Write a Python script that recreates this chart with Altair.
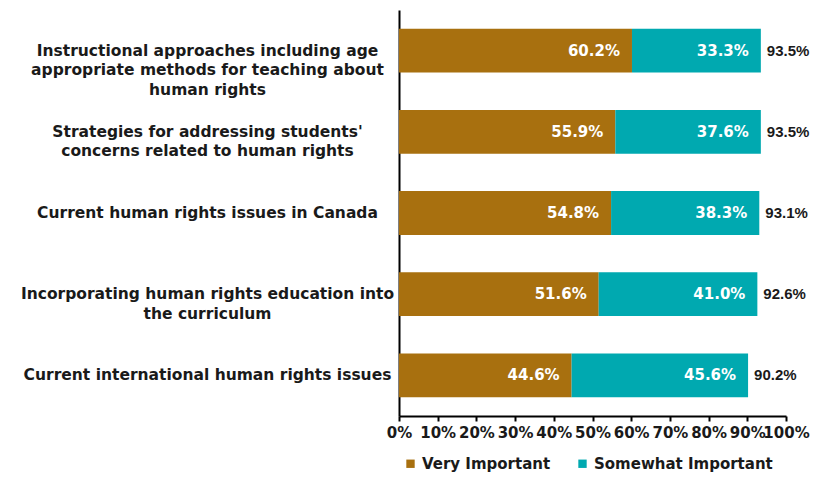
import altair as alt
import pandas as pd

categories = [
    "Instructional approaches including age|appropriate methods for teaching about|human rights",
    "Strategies for addressing students'|concerns related to human rights",
    "Current human rights issues in Canada",
    "Incorporating human rights education into|the curriculum",
    "Current international human rights issues",
]
series = ["Very Important", "Somewhat Important"]
very_important = [60.2, 55.9, 54.8, 51.6, 44.6]
somewhat_important = [33.3, 37.6, 38.3, 41.0, 45.6]
totals = [93.5, 93.5, 93.1, 92.6, 90.2]
colors = ["#A8700F", "#00A9B0"]
x_ticks = [0, 10, 20, 30, 40, 50, 60, 70, 80, 90, 100]

rows = []
for i, c in enumerate(categories):
    rows.append({"category": c, "series": series[0], "value": very_important[i], "order": 0})
    rows.append({"category": c, "series": series[1], "value": somewhat_important[i], "order": 1})
df = pd.DataFrame(rows)
tot_df = pd.DataFrame({"category": categories, "total": totals})

FONT = "DejaVu Sans"
FS = 15
INK = "#1a1a1a"

y_axis = alt.Axis(
    title=None, ticks=False, labelAlign="center", labelBaseline="middle",
    labelPadding=192, labelExpr="split(datum.label, '|')",
    labelFont=FONT, labelFontSize=15.5, labelFontWeight="bold",
    labelLineHeight=19.5, labelColor=INK, labelLimit=0,
    domainColor="black", domainWidth=2,
)
y_scale = alt.Scale(paddingInner=0.46, paddingOuter=0.23)

x_axis = alt.Axis(
    title=None, values=x_ticks, tickCount=11, labelExpr="datum.value + '%'",
    labelFont=FONT, labelFontSize=FS, labelFontWeight="bold", labelColor=INK,
    domainColor="black", domainWidth=2, tickColor="black", tickWidth=2,
    tickSize=5, labelPadding=4, grid=False, labelFlush=False,
    labelOverlap=False,
)
x_scale = alt.Scale(domain=[0, 100], nice=False)

base = alt.Chart(df).transform_stack(
    stack="value", as_=["v0", "v1"], groupby=["category"],
    sort=[alt.SortField("order", order="ascending")],
)

bars = base.mark_bar().encode(
    y=alt.Y("category:N", sort=categories, scale=y_scale, axis=y_axis),
    x=alt.X("v0:Q", scale=x_scale, axis=x_axis),
    x2="v1:Q",
    color=alt.Color(
        "series:N", sort=series,
        scale=alt.Scale(domain=series, range=colors),
        legend=alt.Legend(
            title=None, orient="none", legendX=4, legendY=446, direction="horizontal",
            symbolType="square", symbolSize=70, symbolStrokeWidth=0,
            labelFont=FONT, labelFontSize=FS, labelFontWeight="bold", labelColor=INK,
            columnPadding=24, symbolOffset=0, labelOffset=4, labelLimit=0,
        ),
    ),
)

seg_text = base.transform_calculate(
    lab="format(datum.value, '.1f') + '%'"
).mark_text(
    align="right", baseline="middle", dx=-12, font=FONT, fontSize=FS,
    fontWeight="bold", color="white",
).encode(
    y=alt.Y("category:N", sort=categories, scale=y_scale, axis=y_axis),
    x=alt.X("v1:Q", scale=x_scale, axis=x_axis),
    text="lab:N",
)

tot_text = alt.Chart(tot_df).transform_calculate(
    lab="format(datum.total, '.1f') + '%'"
).mark_text(
    align="left", baseline="middle", dx=6, font="Liberation Sans", fontSize=15,
    fontWeight="bold", color=INK,
).encode(
    y=alt.Y("category:N", sort=categories, scale=y_scale, axis=y_axis),
    x=alt.X("total:Q", scale=x_scale, axis=x_axis),
    text="lab:N",
)

chart = alt.layer(bars, seg_text, tot_text).properties(
    width=387, height=406,
    autosize=alt.AutoSizeParams(type="none"),
    padding={"left": 391, "top": 2, "right": 28, "bottom": 56},
).configure_view(stroke=None)

chart.save("out.html", embed_options={"renderer": "svg", "actions": False})
